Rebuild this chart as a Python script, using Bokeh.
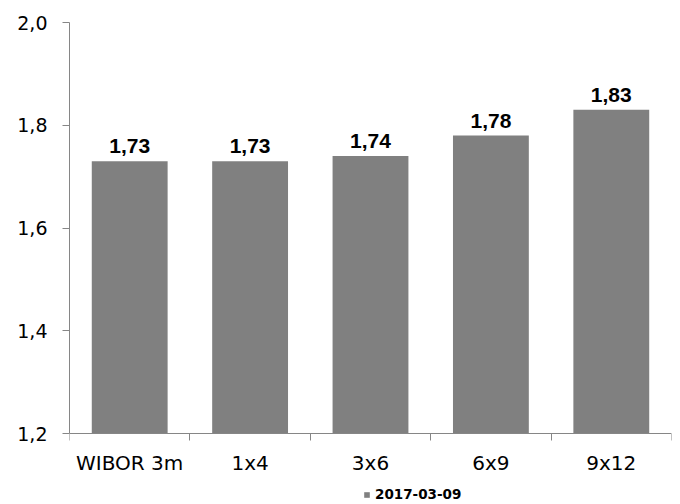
from bokeh.plotting import figure
from bokeh.models import (Range1d, FixedTicker, CustomJSTickFormatter, Legend, LegendItem,
                          LabelSet, ColumnDataSource)
from bokeh.core.properties import value
from bokeh.embed import file_html
from bokeh.resources import INLINE

categories = ["WIBOR 3m", "1x4", "3x6", "6x9", "9x12"]
values = [1.73, 1.73, 1.74, 1.78, 1.83]
series_name = "2017-03-09"
y_ticks = [1.2, 1.4, 1.6, 1.8, 2.0]

xs = [i + 0.5 for i in range(len(categories))]
labels = [f"{v:.2f}".replace(".", ",") for v in values]
src = ColumnDataSource(data=dict(x=xs, top=values, label=labels))

# layout geometry (pixels): value axis spans 411 px, 71 px left below it for labels + legend
axis_px = 411
below_px = 71
y_lo, y_hi = y_ticks[0], y_ticks[-1]
y_start = y_lo - below_px / axis_px * (y_hi - y_lo)

p = figure(width=680, height=504, output_backend="svg", toolbar_location=None,
           x_range=Range1d(0, len(categories)), y_range=Range1d(y_start, y_hi),
           min_border_left=69, min_border_right=9, min_border_top=22, min_border_bottom=0)
p.outline_line_color = None
p.xgrid.grid_line_color = None
p.ygrid.grid_line_color = None
p.background_fill_color = "white"
p.border_fill_color = "white"

bar_color = "#808080"
axis_color = "#868686"

r = p.vbar(x="x", top="top", bottom=y_lo, width=0.63, source=src,
           fill_color=bar_color, line_color=None)

lbls = LabelSet(x="x", y="top", text="label", source=src, text_align="center",
                text_baseline="alphabetic", y_offset=8, text_font=value("Liberation Sans"),
                text_font_style="bold", text_font_size="21px", text_color="black")
p.add_layout(lbls)

# y axis
p.yaxis.ticker = FixedTicker(ticks=y_ticks, minor_ticks=[])
p.yaxis.bounds = (y_lo, y_hi)
p.yaxis.formatter = CustomJSTickFormatter(code="return tick.toFixed(1).replace('.', ',');")
p.yaxis.axis_line_color = axis_color
p.yaxis.major_tick_line_color = axis_color
p.yaxis.major_tick_out = 7
p.yaxis.major_tick_in = 0
p.yaxis.minor_tick_line_color = None
p.yaxis.major_label_standoff = 15
p.yaxis.major_label_text_font = "DejaVu Sans"
p.yaxis.major_label_text_font_size = "19px"
p.yaxis.major_label_text_color = "black"

# x axis
p.xaxis.fixed_location = y_lo
p.xaxis.ticker = FixedTicker(ticks=xs, minor_ticks=list(range(len(categories) + 1)))
p.xaxis.major_label_overrides = {x: c for x, c in zip(xs, categories)}
p.xaxis.axis_line_color = axis_color
p.xaxis.major_tick_line_color = None
p.xaxis.major_tick_out = 0
p.xaxis.major_tick_in = 0
p.xaxis.minor_tick_line_color = axis_color
p.xaxis.minor_tick_out = 7
p.xaxis.minor_tick_in = 0
p.xaxis.major_label_standoff = 10
p.xaxis.major_label_text_font = "DejaVu Sans"
p.xaxis.major_label_text_font_size = "20px"
p.xaxis.major_label_text_color = "black"

legend = Legend(items=[LegendItem(label=series_name, renderers=[r])],
                location=(294, 2), orientation="horizontal",
                padding=0, margin=0, border_line_color=None, background_fill_alpha=0,
                glyph_width=7, glyph_height=7, label_standoff=5, label_height=14,
                label_text_font="DejaVu Sans", label_text_font_style="bold",
                label_text_font_size="13.5px", label_text_color="black")
p.add_layout(legend, "center")

open("out.html", "w").write(file_html(p, INLINE))
